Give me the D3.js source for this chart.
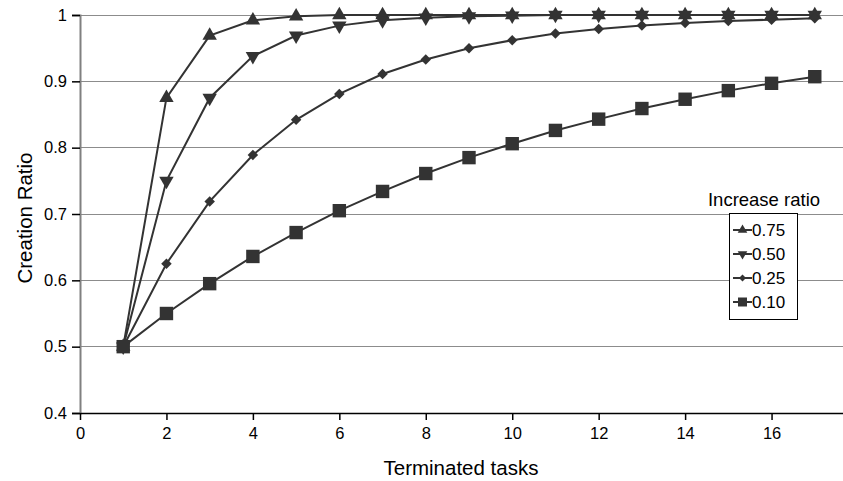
<!DOCTYPE html>
<html>
<head>
<meta charset="utf-8">
<script src="https://cdn.jsdelivr.net/npm/d3@7"></script>
<style>
  html, body { margin: 0; padding: 0; background: #fff; }
  svg { display: block; font-family: "Liberation Sans", Arial, sans-serif; }
</style>
</head>
<body>
<svg id="chart" width="843" height="481"></svg>
<script>
// Terminated task count on the x axis
const tasks = [1, 2, 3, 4, 5, 6, 7, 8, 9, 10, 11, 12, 13, 14, 15, 16, 17];

// Creation ratio for each increase ratio
const ratio075 = [0.5, 0.875, 0.969, 0.992, 0.998, 1.000, 1.000, 1.000, 1.000, 1.000, 1.000, 1.000, 1.000, 1.000, 1.000, 1.000, 1.000];
const ratio050 = [0.5, 0.750, 0.875, 0.938, 0.969, 0.984, 0.992, 0.996, 0.998, 0.999, 1.000, 1.000, 1.000, 1.000, 1.000, 1.000, 1.000];
const ratio025 = [0.5, 0.625, 0.719, 0.789, 0.842, 0.881, 0.911, 0.933, 0.950, 0.962, 0.972, 0.979, 0.984, 0.988, 0.991, 0.993, 0.995];
const ratio010 = [0.5, 0.550, 0.595, 0.636, 0.672, 0.705, 0.734, 0.761, 0.785, 0.806, 0.826, 0.843, 0.859, 0.873, 0.886, 0.897, 0.907];

const seriesNames = ["0.75", "0.50", "0.25", "0.10"];
const seriesValues = [ratio075, ratio050, ratio025, ratio010];

const xTicks = [0, 2, 4, 6, 8, 10, 12, 14, 16];
const yTicks = [0.4, 0.5, 0.6, 0.7, 0.8, 0.9, 1];
const yTickLabels = ["0.4", "0.5", "0.6", "0.7", "0.8", "0.9", "1"];

const ink = "#333333";
const font = "Liberation Sans, Arial, sans-serif";
const svg = d3.select("#chart");

const x = d3.scaleLinear().domain([0, 18]).range([80, 858]);
const y = d3.scaleLinear().domain([0.4, 1]).range([413, 15]);

// Horizontal gridlines
svg.append("g")
  .selectAll("line")
  .data(yTicks.filter(v => v > 0.4))
  .join("line")
  .attr("x1", x(0)).attr("x2", 858)
  .attr("y1", d => y(d)).attr("y2", d => y(d))
  .attr("stroke", "#8c8c8c").attr("stroke-width", 1)
  .attr("shape-rendering", "crispEdges");

// Y axis
const yAxis = svg.append("g")
  .attr("transform", `translate(${x(0)},0)`)
  .call(d3.axisLeft(y).tickValues(yTicks)
    .tickFormat((d, i) => yTickLabels[i]).tickSize(8).tickPadding(5));
yAxis.select(".domain").attr("stroke", "#808080").attr("stroke-width", 2);
yAxis.selectAll(".tick line").attr("stroke", "#000").attr("stroke-width", 1.5);
yAxis.selectAll("text").attr("font-size", 16.5).attr("fill", "#000")
  .attr("font-family", font);

// X axis
const xAxis = svg.append("g")
  .attr("transform", `translate(0,${y(0.4)})`)
  .call(d3.axisBottom(x).tickValues(xTicks).tickFormat(d3.format("d"))
    .tickSizeInner(7).tickSizeOuter(0).tickPadding(7));
xAxis.select(".domain").attr("stroke", "#000").attr("stroke-width", 1.5);
xAxis.selectAll(".tick line").attr("stroke", "#000").attr("stroke-width", 1.5);
xAxis.selectAll("text").attr("font-size", 16.5).attr("fill", "#000")
  .attr("font-family", font);

// Axis titles
svg.append("text")
  .attr("x", 461).attr("y", 475)
  .attr("text-anchor", "middle").attr("font-size", 20.5).attr("fill", "#000")
  .text("Terminated tasks");
svg.append("text")
  .attr("transform", `translate(32,218) rotate(-90)`)
  .attr("text-anchor", "middle").attr("font-size", 20.5).attr("fill", "#000")
  .text("Creation Ratio");

// Rotated-square diamond marker
const squareDiamond = {
  draw(ctx, size) {
    const r = Math.sqrt(size / 2);
    ctx.moveTo(0, -r);
    ctx.lineTo(r, 0);
    ctx.lineTo(0, r);
    ctx.lineTo(-r, 0);
    ctx.closePath();
  }
};

// Marker shapes per series
const markers = [
  { type: d3.symbolTriangle, size: 90, rot: 0 },
  { type: d3.symbolTriangle, size: 90, rot: 180 },
  { type: squareDiamond, size: 55, rot: 0 },
  { type: d3.symbolSquare, size: 180, rot: 0 }
];

const line = d3.line()
  .x((d, i) => x(tasks[i]))
  .y(d => y(d));

seriesValues.forEach((vals, s) => {
  const g = svg.append("g");
  g.append("path")
    .datum(vals)
    .attr("d", line)
    .attr("fill", "none")
    .attr("stroke", ink)
    .attr("stroke-width", 2);
  g.selectAll("path.mk")
    .data(vals)
    .join("path")
    .attr("class", "mk")
    .attr("d", d3.symbol().type(markers[s].type).size(markers[s].size))
    .attr("transform", (d, i) => `translate(${x(tasks[i])},${y(d)}) rotate(${markers[s].rot})`)
    .attr("fill", ink);
});

// Legend
svg.append("text")
  .attr("x", 764).attr("y", 206)
  .attr("text-anchor", "middle").attr("font-size", 18.5).attr("fill", "#000")
  .text("Increase ratio");
svg.append("rect")
  .attr("x", 729.5).attr("y", 213.5).attr("width", 68).attr("height", 106)
  .attr("fill", "#fff").attr("stroke", "#000").attr("stroke-width", 1);

const legendY = d3.scalePoint().domain(seriesNames).range([230, 302]);
const lg = svg.append("g")
  .selectAll("g")
  .data(seriesNames)
  .join("g")
  .attr("transform", d => `translate(0,${legendY(d)})`);
lg.append("line")
  .attr("x1", 733).attr("x2", 752).attr("y1", 0).attr("y2", 0)
  .attr("stroke", ink).attr("stroke-width", 2);
lg.append("path")
  .attr("d", (d, i) => d3.symbol().type(markers[i].type).size(markers[i].size * 0.45)())
  .attr("transform", (d, i) => `translate(742.5,0) rotate(${markers[i].rot})`)
  .attr("fill", ink);
lg.append("text")
  .attr("x", 752).attr("y", 0).attr("dy", "0.36em")
  .attr("font-size", 17).attr("fill", "#000")
  .text(d => d);
</script>
</body>
</html>
